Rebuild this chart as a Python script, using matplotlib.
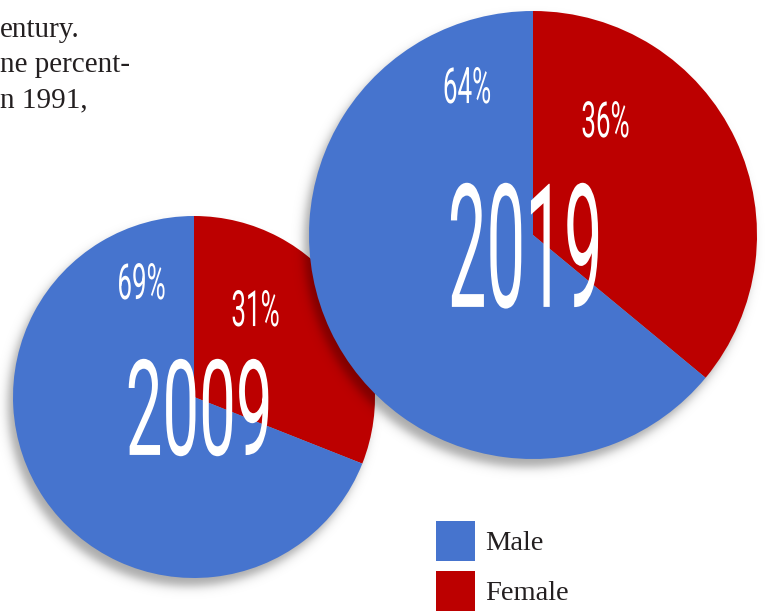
import numpy as np
import matplotlib.pyplot as plt
from matplotlib.patheffects import AbstractPathEffect
from matplotlib.transforms import Affine2D

# share of each group per survey year
years = ["2009", "2019"]
male = [69, 64]
female = [31, 36]
groups = ["Male", "Female"]

MALE_COLOR = "#4674CE"
FEMALE_COLOR = "#BC0000"
INK = "#231F20"

W, H = 765, 612

# pie layout in pixel units (origin bottom left)
centers = [(194, 215), (533, 377)]
radii = [181, 224]
# label anchors as fractions of the radius: (male, female, year)
anchors = [
    [(-0.287, 0.541), (0.343, 0.392), (0.041, -0.320)],
    [(-0.292, 0.589), (0.326, 0.437), (-0.020, -0.321)],
]
year_size = [96, 124]
year_squeeze = [0.49, 0.40]


class Squeeze(AbstractPathEffect):
    """Draw text narrower than the font, scaled about its own centre."""

    def __init__(self, sx):
        super().__init__()
        self.sx = sx

    def draw_path(self, renderer, gc, tpath, affine, rgbFace=None):
        xs = affine.transform(tpath.vertices)[:, 0]
        cx = 0.5 * (xs.min() + xs.max())
        tr = affine + Affine2D().translate(-cx, 0).scale(self.sx, 1).translate(cx, 0)
        renderer.draw_path(gc, tpath, tr, rgbFace)


def shadow(ax, c, r, z):
    # soft drop shadow, shifted down and to the left
    yy, xx = np.mgrid[0:H, 0:W] + 0.5
    d = np.hypot(xx - (c[0] - 5), yy - (c[1] - 8))
    a = 0.34 * 0.5 * (1 - np.tanh((d - r) / 6.0))
    img = np.zeros((H, W, 4))
    img[..., 3] = a
    ax.imshow(img, extent=(0, W, 0, H), origin="lower", zorder=z,
              interpolation="bilinear")


fig = plt.figure(figsize=(W / 100, H / 100), dpi=100)
ax = fig.add_axes([0, 0, 1, 1])

for i, year in enumerate(years):
    c, r = centers[i], radii[i]
    shadow(ax, c, r, 2 * i + 0.5)
    wedges, _ = ax.pie([female[i], male[i]], colors=[FEMALE_COLOR, MALE_COLOR],
                       startangle=90, counterclock=False, center=c, radius=r,
                       wedgeprops=dict(linewidth=0, zorder=2 * i + 1))
    (mx, my), (fx, fy), (yx, yy) = anchors[i]
    for (ox, oy), v in zip([(mx, my), (fx, fy)], [male[i], female[i]]):
        ax.text(c[0] + ox * r, c[1] + oy * r, f"{v}%", color="white",
                family="Roboto", fontsize=36, ha="center", va="baseline",
                zorder=10, path_effects=[Squeeze(0.52)])
    ax.text(c[0] + yx * r, c[1] + yy * r, year, color="white",
            family="Roboto", fontsize=year_size[i], ha="center", va="baseline",
            zorder=10, path_effects=[Squeeze(year_squeeze[i])])

ax.set_xlim(0, W)
ax.set_ylim(0, H)
ax.set_aspect("auto")
ax.axis("off")

# running text from the article column
for y, line in zip([H - 37, H - 72, H - 107], ["entury.", "ne percent-", "n 1991,"]):
    ax.text(0, y, line, family="Liberation Serif", fontsize=21, color=INK,
            ha="left", va="baseline")

leg = ax.legend(wedges[::-1], groups, loc="upper left",
                bbox_to_anchor=(436 / W, 1 - 521 / H), frameon=False,
                borderpad=0, borderaxespad=0, handlelength=1.37, handleheight=1.785,
                handletextpad=0.35, labelspacing=0.35,
                prop=dict(family="Liberation Serif", size=20.5))
for t in leg.get_texts():
    t.set_color(INK)

fig.savefig("out.png", dpi=100)
